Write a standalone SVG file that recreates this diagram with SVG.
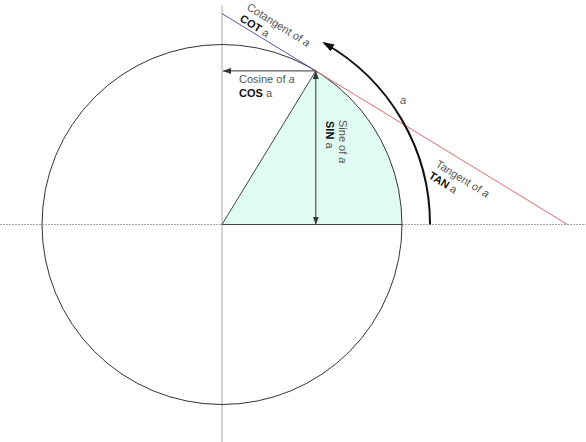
<svg xmlns="http://www.w3.org/2000/svg" width="586" height="442" viewBox="0 0 586 442">
<style>
.axis{stroke:#a8a8a8;stroke-width:1;fill:none}
.dark{stroke:#333;stroke-width:1;fill:none}
.lbl{font-family:"Liberation Sans",Arial,sans-serif;font-size:11px;fill:#555}
.b{font-weight:bold;fill:#111}
.i{font-style:italic}
</style>
<defs>
<marker id="ah" viewBox="0 0 8 6" refX="8" refY="3" markerWidth="8" markerHeight="6" markerUnits="userSpaceOnUse" orient="auto-start-reverse">
<path d="M0,0 L8,3 L0,6 z" fill="#333"/>
</marker>
<marker id="ahBig" viewBox="0 0 12 8" refX="10" refY="4" markerWidth="12" markerHeight="8" markerUnits="userSpaceOnUse" orient="auto">
<path d="M0,0 L12,4 L0,8 z" fill="#111"/>
</marker>
</defs>
<rect width="586" height="442" fill="#fff"/>
<g id="axes">
<line class="axis" x1="222" y1="5" x2="222" y2="442"/>
<line class="axis" x1="0" y1="224.5" x2="586" y2="224.5" stroke-dasharray="2 1"/>
</g>
<g id="sector">
<path d="M222 224.5 L315.8 70.9 A180 180 0 0 1 402 224.5 Z" fill="#e0fbf1" stroke="none"/>
<line x1="222" y1="224.5" x2="315.8" y2="70.9" stroke="#444" stroke-width="1"/>
<line x1="222" y1="224.5" x2="402" y2="224.5" stroke="#444" stroke-width="1.2"/>
</g>
<g id="circle">
<circle cx="222" cy="224.5" r="180" class="dark"/>
</g>
<g id="connectors">
<line x1="315.8" y1="70.9" x2="222" y2="13.6" stroke="#5555aa" stroke-width="1"/>
<line x1="315.8" y1="70.9" x2="567.5" y2="224.5" stroke="#e06a6a" stroke-width="1"/>
<line x1="315.8" y1="70.9" x2="223" y2="70.9" stroke="#333" stroke-width="1" marker-end="url(#ah)"/>
<line x1="315.8" y1="70.9" x2="315.8" y2="224.5" stroke="#333" stroke-width="1" marker-start="url(#ah)" marker-end="url(#ah)"/>
<path d="M430 224.5 A208 208 0 0 0 324 43" fill="none" stroke="#111" stroke-width="2" marker-end="url(#ahBig)"/>
</g>
<g id="labels">
<text class="lbl" transform="translate(246,9) rotate(32)">Cotangent of <tspan class="i">a</tspan></text>
<text class="lbl" transform="translate(239,20.5) rotate(32)"><tspan class="b">COT</tspan> a</text>
<text class="lbl" x="239" y="83">Cosine of <tspan class="i">a</tspan></text>
<text class="lbl" x="239" y="97"><tspan class="b">COS</tspan> a</text>
<text class="lbl" transform="translate(339,120) rotate(90)">Sine of <tspan class="i">a</tspan></text>
<text class="lbl" transform="translate(326,121) rotate(90)"><tspan class="b">SIN</tspan> a</text>
<text class="lbl" transform="translate(435,166) rotate(32)">Tangent of <tspan class="i">a</tspan></text>
<text class="lbl" transform="translate(428,177.5) rotate(32)"><tspan class="b">TAN</tspan> a</text>
<text class="lbl i" x="400" y="104">a</text>
</g>
</svg>
